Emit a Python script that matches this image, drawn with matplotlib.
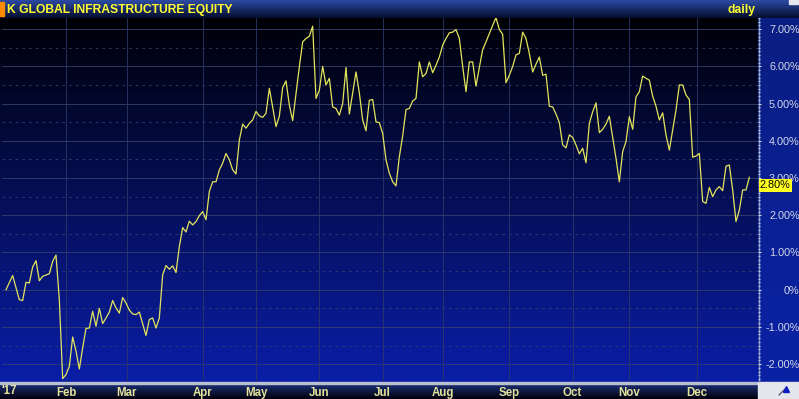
import numpy as np
import matplotlib.pyplot as plt
from matplotlib.patches import Rectangle
from matplotlib.ticker import MultipleLocator

plt.rcParams['font.family'] = ['Liberation Sans', 'DejaVu Sans']

# trading-day index and total return (%)
day = [0, 2, 4, 5, 6, 7, 8, 9, 10, 11, 13, 14, 15, 16, 17, 18, 19, 20, 21, 22,
       23, 24, 25, 26, 27, 28, 29, 30, 31, 32, 33, 34, 35, 36, 37, 38, 39, 40, 41, 42,
       43, 44, 45, 46, 47, 48, 49, 50, 51, 52, 53, 54, 55, 56, 57, 58, 59, 60, 61, 62,
       63, 64, 65, 66, 67, 68, 69, 70, 71, 72, 73, 74, 75, 76, 77, 78, 79, 80, 81, 82,
       83, 84, 85, 86, 87, 88, 89, 90, 91, 92, 93, 94, 95, 96, 97, 98, 99, 100, 101, 102,
       103, 104, 105, 106, 107, 108, 109, 110, 111, 112, 113, 114, 115, 116, 117, 118, 119, 120, 121, 122,
       123, 124, 125, 126, 127, 128, 129, 130, 131, 132, 133, 134, 135, 136, 137, 138, 139, 140, 141, 142,
       143, 144, 145, 146, 147, 148, 149, 150, 151, 152, 153, 154, 155, 156, 157, 158, 159, 160, 161, 162,
       163, 164, 165, 166, 167, 168, 169, 170, 171, 172, 173, 174, 175, 176, 177, 178, 179, 180, 181, 182,
       183, 184, 185, 186, 187, 188, 189, 190, 191, 192, 193, 194, 195, 196, 197, 198, 199, 200, 201, 202,
       203, 204, 205, 206, 207, 208, 209, 210, 211, 212, 213, 214, 215, 216, 217, 218, 219, 220, 221, 222,
       223]
ret = [0.0, 0.38, -0.27, -0.29, 0.2, 0.18, 0.61, 0.78, 0.24, 0.36, 0.43, 0.76, 0.93, -0.27, -2.39, -2.28, -2.06, -1.27, -1.65, -2.13,
       -1.56, -1.04, -1.03, -0.58, -0.98, -0.5, -0.91, -0.76, -0.6, -0.29, -0.49, -0.63, -0.21, -0.36, -0.55, -0.65, -0.67, -0.6, -0.91, -1.23,
       -0.8, -0.76, -1.03, -0.76, 0.4, 0.65, 0.55, 0.64, 0.46, 1.16, 1.67, 1.55, 1.84, 1.74, 1.83, 1.99, 2.1, 1.88, 2.64, 2.9,
       2.9, 3.22, 3.4, 3.66, 3.49, 3.22, 3.11, 4.02, 4.45, 4.34, 4.47, 4.56, 4.79, 4.67, 4.63, 4.74, 5.41, 4.91, 4.38, 4.66,
       5.43, 5.61, 4.96, 4.54, 5.27, 5.99, 6.66, 6.75, 6.81, 7.08, 5.14, 5.36, 6.0, 5.5, 5.68, 4.91, 4.87, 4.69, 5.0, 5.97,
       4.72, 5.29, 5.85, 5.29, 4.56, 4.27, 5.09, 5.11, 4.51, 4.49, 4.2, 3.49, 3.13, 2.9, 2.79, 3.57, 4.13, 4.84, 4.87, 5.07,
       5.14, 6.12, 5.72, 5.81, 6.12, 5.83, 6.03, 6.25, 6.57, 6.75, 6.9, 6.92, 6.99, 6.75, 6.0, 5.32, 6.12, 6.12, 5.47, 5.97,
       6.45, 6.66, 6.88, 7.1, 7.31, 6.99, 6.86, 5.56, 5.76, 6.0, 6.31, 6.35, 6.92, 6.75, 6.35, 5.85, 6.06, 6.25, 5.76, 5.79,
       4.93, 4.91, 4.72, 4.49, 3.89, 3.81, 4.16, 4.09, 3.89, 3.65, 3.8, 3.41, 4.47, 4.78, 5.02, 4.22, 4.31, 4.45, 4.66, 4.09,
       3.53, 2.9, 3.71, 3.98, 4.65, 4.31, 5.18, 5.32, 5.74, 5.68, 5.63, 5.2, 4.93, 4.56, 4.75, 4.16, 3.75, 4.29, 4.83, 5.5,
       5.5, 5.23, 5.11, 3.56, 3.59, 3.66, 2.37, 2.32, 2.75, 2.5, 2.68, 2.77, 2.66, 3.32, 3.35, 2.68, 1.83, 2.14, 2.68, 2.68,
       3.02]

month_pos = [18, 36.2, 59, 75, 94, 113, 131, 151, 170, 187, 207.2]
month_lbl = ['Feb', 'Mar', 'Apr', 'May', 'Jun', 'Jul', 'Aug', 'Sep', 'Oct', 'Nov', 'Dec']
last_label = '2.80%'
last_value = 2.80
title = 'K GLOBAL INFRASTRUCTURE EQUITY'

W, H = 799, 399
fig = plt.figure(figsize=(W / 100, H / 100), dpi=100)
fig.patch.set_facecolor('#000820')


def vgrad(top, bottom, n=256):
    t = np.linspace(0, 1, n)[:, None]
    c = np.array(top)[None, :] * (1 - t) + np.array(bottom)[None, :] * t
    return (c / 255.0)[:, None, :]


# background layer in pixel coordinates
bg = fig.add_axes([0, 0, 1, 1], zorder=-10)
bg.set_xlim(0, W)
bg.set_ylim(H, 0)
bg.axis('off')
bg.imshow(vgrad((0, 0, 6), (10, 30, 168)), extent=[0, 758, 382, 18], aspect='auto')
bg.imshow(vgrad((10, 30, 130), (10, 34, 165)), extent=[758, W, 382, 18], aspect='auto')
bg.imshow(vgrad((45, 75, 165), (5, 12, 45)), extent=[0, W, 18, 0], aspect='auto')
bg.imshow(vgrad((30, 50, 125), (0, 0, 10)), extent=[0, 758, 399, 383], aspect='auto')
bg.add_patch(Rectangle((0, 382), 758, 1.5, color='#b8c0d0'))
bg.add_patch(Rectangle((758, 382), 41, 17, color='#e4e6ee'))
bg.plot([779, 785], [395, 389], color='#404060', lw=0.8)
bg.plot([786], [389], marker='^', ms=5, color='#1020c0')
bg.add_patch(Rectangle((0, 2), 3.5, 14, color='#ff8c00'))
bg.add_patch(Rectangle((789, 0), 9, 4, color='#e8e8f0'))
bg.add_patch(Rectangle((758.5, 18), 0.8, 364, color='#8090c0'))
bg.text(7, 9.5, title, color='#ffff30', fontsize=8.7, fontweight='bold', va='center', ha='left')
bg.text(755, 9.5, 'daily', color='#ffff30', fontsize=8.7, fontweight='bold', va='center', ha='right')
bg.text(1, 391.5, "'17", color='#e2e29a', fontsize=8.3, fontweight='bold', va='center', ha='left')

# main chart
ax = fig.add_axes([2 / W, 1 - 382 / H, 756 / W, 364 / H])
ax.set_facecolor('none')
ax.set_xlim(-1.2, 225.6)
ax.set_ylim(-2.48, 7.30)

for v in np.arange(-2, 7.5, 1.0):
    ax.axhline(v, color='#34406e', lw=0.6, zorder=1)
for v in np.arange(-1.5, 7.5, 1.0):
    ax.axhline(v, color='#34406e', lw=0.6, ls=(0, (3, 5)), zorder=1)
for p in month_pos:
    ax.axvline(p, color='#2c3868', lw=0.6, zorder=1)

ax.plot(day, ret, color='#e4e45c', lw=0.9, zorder=3)

ax.yaxis.tick_right()
ax.set_yticks(np.arange(-2, 8, 1.0))
ax.set_yticklabels(['-2.00%', '-1.00%', '0%', '1.00%', '2.00%', '3.00%',
                    '4.00%', '5.00%', '6.00%', '7.00%'])
ax.yaxis.set_minor_locator(MultipleLocator(0.1))
ax.tick_params(axis='y', which='major', length=2, width=0.8, color='#d0d4e8',
               pad=28, labelsize=7.8, labelcolor='#d4d8ea')
ax.tick_params(axis='y', which='minor', length=1.5, width=0.8, color='#c0c8e0')
for lab in ax.get_yticklabels():
    lab.set_horizontalalignment('right')

ax.set_xticks(month_pos)
ax.set_xticklabels(month_lbl, fontweight='bold')
ax.tick_params(axis='x', length=0, pad=3.5, labelsize=8.3, labelcolor='#e2e29a')
for s in ax.spines.values():
    s.set_visible(False)

ax.text(1.0025, last_value, last_label, transform=ax.get_yaxis_transform(),
        fontsize=7.8, color='black', va='center', ha='left',
        bbox=dict(boxstyle='square,pad=0.1', fc='#ffff20', ec='none'))

fig.savefig('out.png', dpi=100, facecolor=fig.get_facecolor())
